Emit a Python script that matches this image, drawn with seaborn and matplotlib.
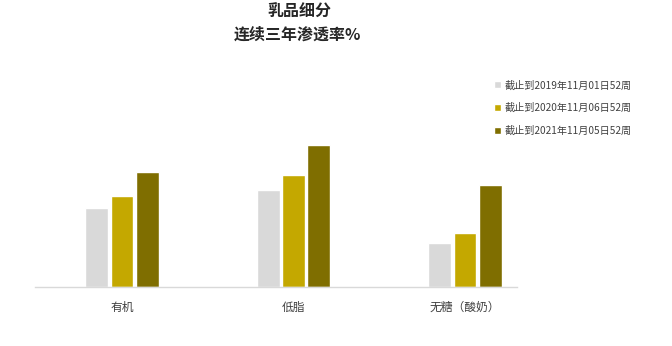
import matplotlib
matplotlib.use("Agg")
import matplotlib.pyplot as plt
import seaborn as sns
import pandas as pd

categories = ["有机", "低脂", "无糖（酸奶）"]
series_names = ["截止到2019年11月01日52周", "截止到2020年11月06日52周", "截止到2021年11月05日52周"]
v2019 = [7.9, 9.7, 4.4]
v2020 = [9.1, 11.2, 5.4]
v2021 = [11.5, 14.2, 10.2]
colors = ["#D9D9D9", "#C4A800", "#7F6E00"]

rows = []
for name, vals in zip(series_names, [v2019, v2020, v2021]):
    for c, v in zip(categories, vals):
        rows.append({"cat": c, "series": name, "val": v})
df = pd.DataFrame(rows)

sns.set_theme(style="white")
plt.rcParams['font.family'] = ['Noto Sans CJK SC', 'DejaVu Sans']

fig = plt.figure(figsize=(6.72, 3.46), dpi=100)
ax = fig.add_axes([35/672, 1-287/346, 482/672, 227/346])
sns.barplot(data=df, x="cat", y="val", hue="series", palette=colors,
            width=0.44, gap=0.09, ax=ax, legend=True, saturation=1)
ax.set_xlim(-0.507, 2.303)
ax.set_ylim(0, 22.7)
for s in ["top", "right", "left"]:
    ax.spines[s].set_visible(False)
ax.spines["bottom"].set_color("#D9D9D9")
ax.spines["bottom"].set_linewidth(1)
ax.set_yticks([])
ax.set_xlabel("")
ax.set_ylabel("")
ax.tick_params(axis="x", length=0, pad=10, labelsize=8.5, colors="#404040")

handles, labels = ax.get_legend_handles_labels()
ax.legend(handles, labels, loc="upper left", bbox_to_anchor=(485/672, 1-71/346),
          bbox_transform=fig.transFigure, frameon=False, fontsize=7.3,
          handlelength=0.7, handleheight=0.7, handletextpad=0.35,
          labelspacing=1.25, labelcolor="#404040")

fig.text(299/672, 1-12/346, "乳品细分", ha="center", va="center",
         fontsize=11.5, fontweight="bold", color="#262626")
fig.text(298/672, 1-35/346, "连续三年渗透率%", ha="center", va="center",
         fontsize=11.5, fontweight="bold", color="#262626")

fig.savefig("out.png", dpi=100)
